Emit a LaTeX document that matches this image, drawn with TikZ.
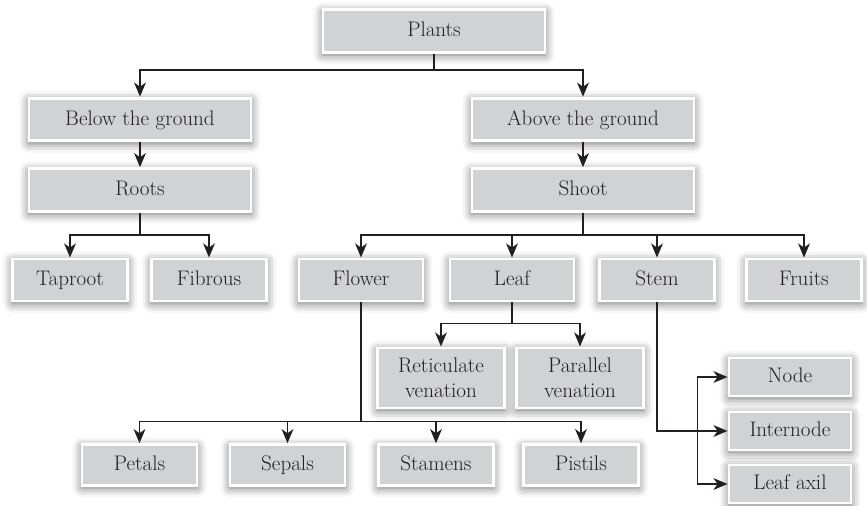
\documentclass[tikz,border=0pt]{standalone}
\usetikzlibrary{arrows.meta,shadows.blur}
\definecolor{boxgray}{RGB}{209,210,212}
\definecolor{inkdark}{RGB}{35,31,32}

\begin{document}
\begin{tikzpicture}[x=0.03cm,y=-0.03cm,
  basebox/.style={draw=white,line width=2.5pt,fill=boxgray,align=center,inner sep=0pt,
    text=inkdark,font=\fontsize{18}{21}\selectfont,
    blur shadow={shadow xshift=0pt,shadow yshift=-2pt,shadow blur radius=8pt,shadow opacity=60}},
  box/.style={basebox,text height=15pt,text depth=5pt},
  widebox/.style={box,minimum width=6.66cm,minimum height=1.28cm},
  smallbox/.style={box,minimum width=3.45cm,minimum height=1.26cm},
  tallbox/.style={basebox,minimum width=3.8cm,minimum height=1.8cm},
  partbox/.style={box,minimum width=3.66cm,minimum height=1.14cm},
  link/.style={draw=inkdark,line width=1.6pt,-{Stealth[length=12pt,width=10pt,inset=3.5pt]}},
  twolink/.style={link,{Stealth[length=12pt,width=10pt,inset=3.5pt]}-{Stealth[length=12pt,width=10pt,inset=3.5pt]}}]
\useasboundingbox (0,0) rectangle (867,506);

% Top
\node[widebox] (plants) at (434,31) {Plants};

% Two parts
\node[widebox] (below) at (140,119.5) {Below the ground};
\node[widebox] (above) at (583,119.5) {Above the ground};
\draw[link] (plants.south) -- ++(0,16) -| (below.north);
\draw[link] (plants.south) -- ++(0,16) -| (above.north);

\node[widebox] (roots) at (140,190) {Roots};
\node[widebox] (shoot) at (583,190) {Shoot};
\draw[link] (below) -- (roots);
\draw[link] (above) -- (shoot);

% Root types
\node[smallbox] (taproot) at (70,280) {Taproot};
\node[smallbox] (fibrous) at (209,280) {Fibrous};
\draw[link] (roots.south) -- ++(0,22) -| (taproot.north);
\draw[link] (roots.south) -- ++(0,22) -| (fibrous.north);

% Shoot parts
\node[smallbox,minimum width=3.72cm] (flower) at (361,280) {Flower};
\node[smallbox,minimum width=3.72cm] (leaf) at (512,280) {Leaf};
\node[smallbox] (stem) at (657,280) {Stem};
\node[smallbox] (fruits) at (804,280) {Fruits};
\draw[link] (shoot.south) -- ++(0,22) -| (flower.north);
\draw[link] (shoot.south) -- ++(0,22) -| (leaf.north);
\draw[link] (shoot.south) -- ++(0,22) -| (stem.north);
\draw[link] (shoot.south) -- ++(0,22) -| (fruits.north);

% Leaf venation
\node[tallbox] (reticulate) at (441,378) {Reticulate\\venation};
\node[tallbox] (parallel) at (580,378) {Parallel\\venation};
\draw[link] (leaf.south) -- ++(0,21) -| (reticulate.north);
\draw[link] (leaf.south) -- ++(0,21) -| (parallel.north);

% Flower parts
\node[smallbox,minimum height=1.22cm] (petals) at (139.5,465) {Petals};
\node[smallbox,minimum height=1.22cm] (sepals) at (287.5,465) {Sepals};
\node[smallbox,minimum height=1.22cm] (stamens) at (436,465) {Stamens};
\node[smallbox,minimum height=1.22cm] (pistils) at (581,465) {Pistils};
\draw[link] (flower.south) -- ++(0,119) -| (petals.north);
\draw[link] (flower.south) -- ++(0,119) -| (sepals.north);
\draw[link] (flower.south) -- ++(0,119) -| (stamens.north);
\draw[link] (flower.south) -- ++(0,119) -| (pistils.north);

% Stem parts
\node[partbox] (node) at (790,377) {Node};
\node[partbox] (internode) at (790,431) {Internode};
\node[partbox] (leafaxil) at (790,484) {Leaf axil};
\draw[link] (stem.south) |- (internode.west);
\draw[twolink] (node.west) -- ++(-30,0) |- (leafaxil.west);
\end{tikzpicture}
\end{document}
